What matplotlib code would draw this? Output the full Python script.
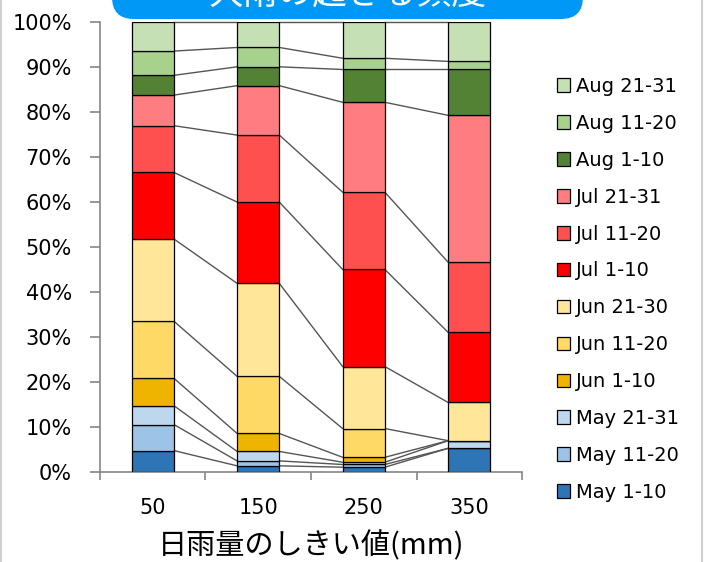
import matplotlib.pyplot as plt
from matplotlib.patches import FancyBboxPatch
import numpy as np

plt.rcParams['font.family'] = ['DejaVu Sans', 'Noto Sans CJK JP']

# daily rainfall thresholds (mm)
thresholds = ['50', '150', '250', '350']

periods = ['May 1-10', 'May 11-20', 'May 21-31',
           'Jun 1-10', 'Jun 11-20', 'Jun 21-30',
           'Jul 1-10', 'Jul 11-20', 'Jul 21-31',
           'Aug 1-10', 'Aug 11-20', 'Aug 21-31']

colors = ['#2E75B6', '#9DC3E6', '#BDD7EE',
          '#EEB400', '#FFD966', '#FFE699',
          '#FF0000', '#FF5050', '#FF7C80',
          '#548235', '#A9D18E', '#C5E0B4']

# share (%) of heavy rain events in each 10-day period, per threshold
may_1_10 = [4.7, 1.3, 1.0, 5.2]
may_11_20 = [5.8, 1.1, 0.6, 0.0]
may_21_31 = [4.2, 2.1, 0.5, 1.7]
jun_1_10 = [6.1, 4.0, 1.1, 0.0]
jun_11_20 = [12.7, 12.7, 6.4, 0.0]
jun_21_30 = [18.3, 20.7, 13.8, 8.5]
jul_1_10 = [14.8, 18.1, 21.6, 15.6]
jul_11_20 = [10.4, 14.9, 17.2, 15.6]
jul_21_31 = [6.8, 11.0, 20.0, 32.7]
aug_1_10 = [4.4, 4.2, 7.3, 10.2]
aug_11_20 = [5.4, 4.3, 2.5, 1.8]
aug_21_31 = [6.4, 5.6, 8.0, 8.7]

shares = [may_1_10, may_11_20, may_21_31, jun_1_10, jun_11_20, jun_21_30,
          jul_1_10, jul_11_20, jul_21_31, aug_1_10, aug_11_20, aug_21_31]

fig = plt.figure(figsize=(7.04, 5.62), dpi=100)
ax = fig.add_axes([0.142, 0.1607, 0.5995, 0.7996])

x = np.arange(len(thresholds))
w = 0.4
bottom = np.zeros(len(x))
tops = []
handles = []
for vals, lab, col in zip(shares, periods, colors):
    b = ax.bar(x, vals, w, bottom=bottom, color=col, edgecolor='black',
               linewidth=0.9, label=lab, zorder=3)
    handles.append(b)
    bottom = bottom + np.array(vals)
    tops.append(bottom.copy())

# series lines between neighbouring bars
for top in tops:
    for i in range(len(x) - 1):
        ax.plot([x[i] + w / 2, x[i + 1] - w / 2], [top[i], top[i + 1]],
                color='#555555', lw=1, zorder=2, clip_on=False)

ax.set_xlim(-0.5, 3.5)
ax.set_ylim(0, 100)
ax.set_xticks(x, thresholds)
ax.set_xticks(np.arange(-0.5, 4, 1), minor=True)
ax.tick_params(axis='x', which='major', length=0, pad=19, labelsize=15)
ax.tick_params(axis='x', which='minor', length=6, width=1.2, color='#868686')
ax.set_yticks(np.arange(0, 101, 10), [f'{v}%' for v in range(0, 101, 10)])
ax.tick_params(axis='y', length=7.2, width=1.2, color='#868686', pad=13, labelsize=15)

for s in ['top', 'right']:
    ax.spines[s].set_visible(False)
for s in ['left', 'bottom']:
    ax.spines[s].set_color('#868686')
    ax.spines[s].set_linewidth(1.2)

ax.set_xlabel('日雨量のしきい値(mm)', fontsize=21,
              family=['Noto Sans CJK JP', 'DejaVu Sans'], labelpad=9)

leg = fig.legend(handles[::-1], periods[::-1], loc='center left',
                 bbox_to_anchor=(0.791, 0.485), frameon=False, fontsize=14,
                 handlelength=0.7, handleheight=0.7, handletextpad=0.3,
                 labelspacing=0.92, borderpad=0, borderaxespad=0)

# title banner, cut off at the top edge
banner = FancyBboxPatch((1.12, 5.43), 4.71, 0.8,
                        boxstyle='round,pad=0,rounding_size=0.22',
                        transform=fig.dpi_scale_trans, facecolor='#0098F7',
                        edgecolor='none', clip_on=False)
fig.patches.append(banner)
fig.text(3.48, 5.58, '大雨の起きる頻度', transform=fig.dpi_scale_trans,
         ha='center', va='baseline', color='white', fontsize=25,
         family=['Noto Sans CJK JP', 'DejaVu Sans'])

# slide border
fig.add_artist(plt.Line2D([0.002, 0.002], [0, 1], color='#D0D0D0', lw=1.5,
                          transform=fig.transFigure))
fig.add_artist(plt.Line2D([0.997, 0.997], [0, 1], color='#D0D0D0', lw=1.5,
                          transform=fig.transFigure))

fig.savefig('out.png', dpi=100)
